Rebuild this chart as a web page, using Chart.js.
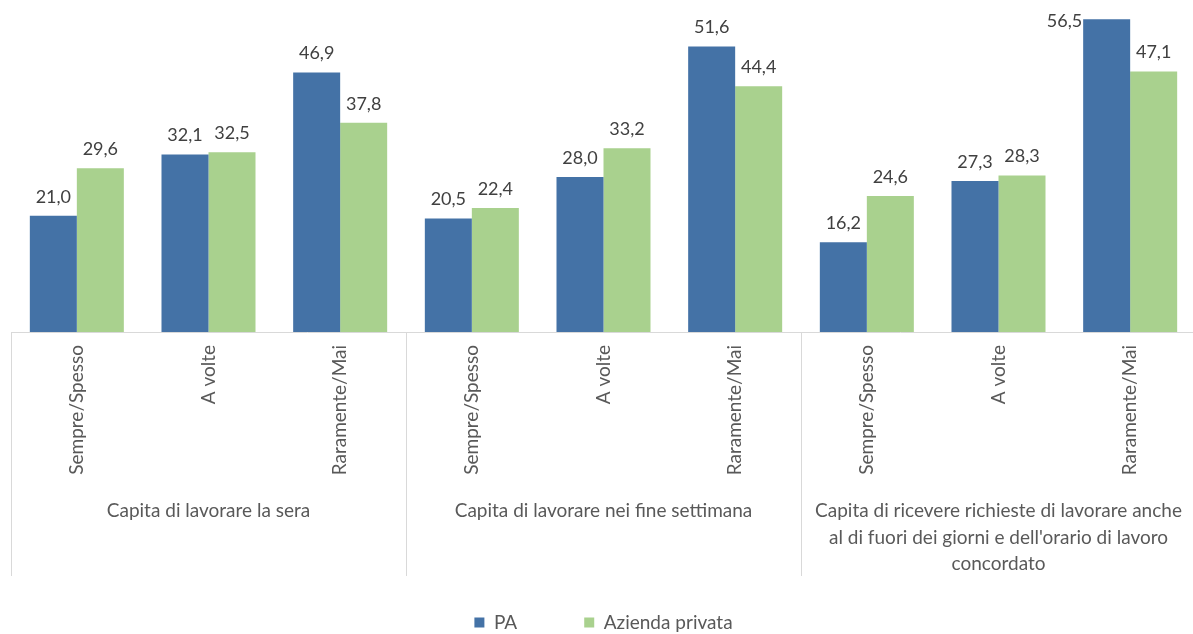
<!DOCTYPE html>
<html lang="it">
<head>
<meta charset="utf-8">
<title>PA vs Azienda privata</title>
<script src="https://cdn.jsdelivr.net/npm/chart.js@4.4.1/dist/chart.umd.min.js"></script>
<style>
  html, body { margin: 0; padding: 0; background: #fff; overflow: hidden; }
  #wrap { width: 1197px; height: 634px; }
</style>
</head>
<body>
<div id="wrap"><canvas id="chartCanvas" width="1197" height="634"></canvas></div>
<script>
const categorie = [
  "Sempre/Spesso", "A volte", "Raramente/Mai",
  "Sempre/Spesso", "A volte", "Raramente/Mai",
  "Sempre/Spesso", "A volte", "Raramente/Mai"
];

// gruppi di domande (3 categorie ciascuno), testo già spezzato in righe
const gruppi = [
  ["Capita di lavorare la sera"],
  ["Capita di lavorare nei fine settimana"],
  ["Capita di ricevere richieste di lavorare anche", "al di fuori dei giorni e dell'orario di lavoro", "concordato"]
];

const valoriPA = [21.0, 32.1, 46.9, 20.5, 28.0, 51.6, 16.2, 27.3, 56.5];
const valoriPrivata = [29.6, 32.5, 37.8, 22.4, 33.2, 44.4, 24.6, 28.3, 47.1];

const FONT = "Lato, 'Open Sans', sans-serif";

function formatta(v) {
  return v.toFixed(1).replace('.', ',');
}

// etichette dei valori sopra le barre (a sinistra se non c'è spazio sopra)
const etichetteValori = {
  id: 'etichetteValori',
  afterDatasetsDraw(chart) {
    const ctx = chart.ctx;
    ctx.save();
    ctx.font = "18px " + FONT;
    ctx.fillStyle = '#404040';
    chart.data.datasets.forEach((ds, di) => {
      const meta = chart.getDatasetMeta(di);
      meta.data.forEach((bar, i) => {
        const testo = formatta(ds.data[i]);
        const sopra = bar.y - 10;
        if (sopra - 17 < chart.chartArea.top) {
          ctx.textAlign = 'right';
          ctx.textBaseline = 'middle';
          ctx.fillText(testo, bar.x - bar.width / 2 - 1, bar.y + 2);
        } else {
          ctx.textAlign = 'center';
          ctx.textBaseline = 'bottom';
          ctx.fillText(testo, bar.x, sopra);
        }
      });
    });
    ctx.restore();
  }
};

// separatori verticali e titoli dei gruppi sotto l'asse x
const gruppiAsse = {
  id: 'gruppiAsse',
  afterDraw(chart) {
    const ctx = chart.ctx;
    const x = chart.scales.x;
    const base = chart.chartArea.bottom;
    const passo = x.getPixelForValue(1) - x.getPixelForValue(0);
    ctx.save();
    ctx.strokeStyle = '#d9d9d9';
    ctx.lineWidth = 1;
    for (let g = 0; g <= gruppi.length; g++) {
      const px = Math.round(x.getPixelForValue(g * 3) - passo / 2) + 0.5;
      ctx.beginPath();
      ctx.moveTo(px, base);
      ctx.lineTo(px, 576);
      ctx.stroke();
    }
    ctx.font = "19px " + FONT;
    ctx.fillStyle = '#595959';
    ctx.textAlign = 'center';
    ctx.textBaseline = 'middle';
    gruppi.forEach((righe, g) => {
      const cx = x.getPixelForValue(g * 3 + 1);
      righe.forEach((r, k) => ctx.fillText(r, cx, 511 + k * 26.5));
    });
    ctx.restore();
  }
};

const ctx = document.getElementById('chartCanvas').getContext('2d');
new Chart(ctx, {
  type: 'bar',
  data: {
    labels: categorie,
    datasets: [
      { label: 'PA', data: valoriPA, backgroundColor: '#4472a6' },
      { label: 'Azienda privata', data: valoriPrivata, backgroundColor: '#a9d18e' }
    ]
  },
  options: {
    responsive: false,
    animation: false,
    layout: { padding: { left: 11, right: 1, top: 0, bottom: 0 } },
    datasets: { bar: { categoryPercentage: 0.714, barPercentage: 1 } },
    plugins: {
      legend: {
        position: 'bottom',
        maxHeight: 88,
        labels: {
          font: { family: FONT, size: 19 },
          color: '#595959',
          boxWidth: 10,
          boxHeight: 10,
          padding: 67
        }
      },
      tooltip: { enabled: false }
    },
    scales: {
      x: {
        grid: { display: false, drawTicks: false },
        border: { color: '#d9d9d9', width: 1 },
        ticks: {
          minRotation: 90,
          maxRotation: 90,
          padding: 13,
          autoSkip: false,
          color: '#595959',
          font: { family: FONT, size: 19 }
        },
        afterFit(scale) { scale.height = 214; }
      },
      y: {
        display: false,
        min: 0,
        max: 60
      }
    }
  },
  plugins: [etichetteValori, gruppiAsse]
});
</script>
</body>
</html>
